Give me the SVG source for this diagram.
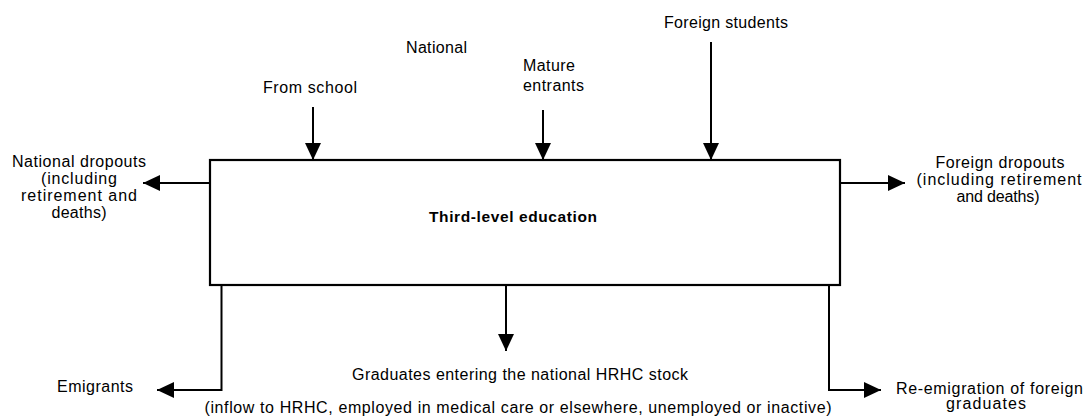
<svg xmlns="http://www.w3.org/2000/svg" width="1084" height="420" viewBox="0 0 1084 420">
<style>
text{font-family:"Liberation Sans",Arial,sans-serif;font-size:16px;fill:#000}
.c{text-anchor:middle}
.b{font-weight:bold;font-size:15.5px}
.ln{fill:none;stroke:#000;stroke-width:2;marker-end:url(#ah)}
.box{fill:#fff;stroke:#000;stroke-width:2.2}
</style>
<defs>
<marker id="ah" markerUnits="userSpaceOnUse" markerWidth="18" markerHeight="16" refX="17" refY="8" orient="auto">
<path d="M0,0 L17,8 L0,16 z" fill="#000"/>
</marker>
</defs>
<rect width="1084" height="420" fill="#fff"/>
<g id="connectors">
<line class="ln" x1="313" y1="107" x2="313" y2="160"/>
<line class="ln" x1="543" y1="110" x2="543" y2="160"/>
<line class="ln" x1="711" y1="42" x2="711" y2="160"/>
<line class="ln" x1="210" y1="183" x2="143" y2="183"/>
<line class="ln" x1="840" y1="183" x2="905" y2="183"/>
<line class="ln" x1="506" y1="285" x2="506" y2="351"/>
<path class="ln" d="M221.5,285 V390 H157"/>
<path class="ln" d="M829,285 V390 H881"/>
</g>
<g id="third-level-education">
<rect class="box" x="210" y="160" width="630" height="125"/>
<text class="c b" x="513" y="222" textLength="168" lengthAdjust="spacing">Third-level education</text>
</g>
<g id="national">
<text class="c" x="436.5" y="53" textLength="61" lengthAdjust="spacing">National</text>
</g>
<g id="from-school">
<text class="c" x="310" y="93" textLength="94" lengthAdjust="spacing">From school</text>
</g>
<g id="mature-entrants">
<text x="523" y="71" textLength="52" lengthAdjust="spacing">Mature</text>
<text x="523" y="91" textLength="61" lengthAdjust="spacing">entrants</text>
</g>
<g id="foreign-students">
<text class="c" x="726" y="28" textLength="124" lengthAdjust="spacing">Foreign students</text>
</g>
<g id="national-dropouts">
<text class="c" x="79" y="167" textLength="134" lengthAdjust="spacing">National dropouts</text>
<text class="c" x="79" y="184" textLength="76" lengthAdjust="spacing">(including</text>
<text class="c" x="79" y="201" textLength="116" lengthAdjust="spacing">retirement and</text>
<text class="c" x="79" y="218" textLength="55" lengthAdjust="spacing">deaths)</text>
</g>
<g id="foreign-dropouts">
<text class="c" x="1000" y="168" textLength="129" lengthAdjust="spacing">Foreign dropouts</text>
<text class="c" x="999" y="185" textLength="165" lengthAdjust="spacing">(including retirement</text>
<text class="c" x="998" y="202" textLength="83" lengthAdjust="spacing">and deaths)</text>
</g>
<g id="emigrants">
<text class="c" x="95" y="392" textLength="76" lengthAdjust="spacing">Emigrants</text>
</g>
<g id="graduates">
<text class="c" x="520" y="380" textLength="336" lengthAdjust="spacing">Graduates entering the national HRHC stock</text>
<text class="c" x="518" y="413" textLength="627" lengthAdjust="spacing">(inflow to HRHC, employed in medical care or elsewhere, unemployed or inactive)</text>
</g>
<g id="re-emigration">
<text class="c" x="989.5" y="394" textLength="187" lengthAdjust="spacing">Re-emigration of foreign</text>
<text class="c" x="986" y="409" textLength="80" lengthAdjust="spacing">graduates</text>
</g>
</svg>
